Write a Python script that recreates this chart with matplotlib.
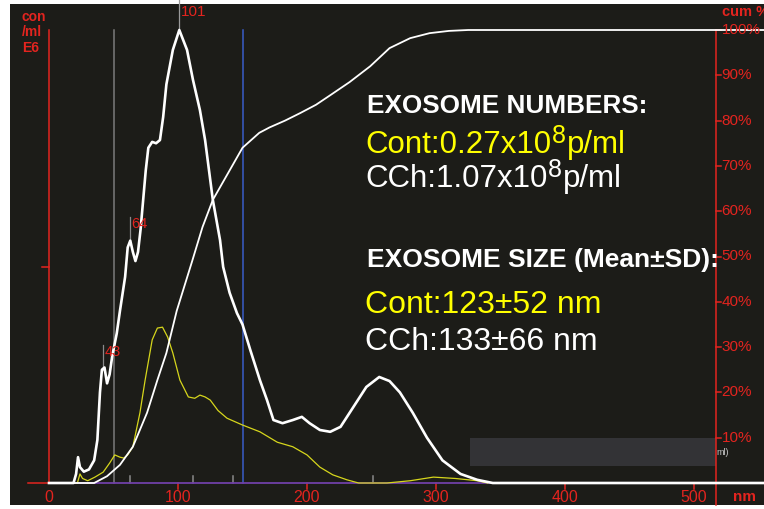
#!/usr/bin/env python3
"""Redraw the NTA size distribution plot (exosome numbers and sizes)."""

import matplotlib

matplotlib.use("Agg")
import matplotlib.pyplot as plt
from matplotlib.patches import Rectangle

# concentration of CCh sample, % of peak value
cch_nm = [0, 19, 21, 22.5, 24, 27, 31, 35, 37.5, 39.5, 41, 43, 45, 47, 49, 52.5, 55, 59, 61, 63,
          65, 67, 69, 71, 73, 75, 77, 80, 83, 86, 88.5, 91, 96, 101, 107, 111.6, 117, 121, 127,
          132.6, 135, 140, 145.7, 150, 156, 163.5, 169, 174, 181, 189, 196, 202, 210, 218, 226,
          236, 246, 256, 264, 272, 282, 293, 305, 319, 332, 344, 554]
cch_conc = [0, 0, 2, 5.7, 3.5, 2.5, 3, 5, 9.5, 20, 25, 25.5, 22, 24, 28, 33, 38, 45.5, 52, 53.5,
            51, 49, 51, 56, 62.5, 69, 74, 75.3, 75, 75.7, 80.8, 88, 95.6, 100, 95.6, 89, 82.3, 75.7,
            62.5, 53.6, 47.7, 42, 37.5, 35, 29.4, 22.7, 18.3, 13.9, 13.2, 13.9, 14.6, 13.2, 11.7,
            11.3, 12.4, 16.8, 21.2, 23.4, 22.5, 20, 15.5, 10, 5, 2, 0.7, 0, 0]

# concentration of control sample, same scale
cont_nm = [0, 22, 24, 26, 30, 35.6, 42, 47, 51, 55, 58, 61, 65, 70.5, 74.5, 80, 84, 88, 92, 96,
           101.5, 108, 113, 117, 121, 125, 131, 138, 150, 163.5, 177, 189, 200, 210, 220, 231,
           240, 262, 280, 298, 315, 332, 340]
cont_conc = [0, 0, 2, 1, 0.5, 1.3, 2.4, 4.4, 6.2, 5.7, 5.5, 6.2, 8, 15.5, 22.7, 31.6, 34.2, 34.4,
             32.2, 28.7, 22.7, 19, 18.7, 19.4, 19, 18.3, 16, 14.3, 12.8, 11.3, 9, 8, 6.2, 3.5,
             1.8, 0.7, 0, 0, 0.5, 1.3, 1, 0.5, 0]

# cumulative distribution, %
cum_nm = [0, 35, 45, 55, 65, 76, 84, 91, 99, 111, 119, 127, 140, 150, 163, 171, 183, 195, 207,
          218, 233, 249, 264, 280, 295, 310, 325, 554]
cum_pct = [0, 0, 1.5, 4, 8, 15.5, 22.7, 28.7, 38, 49, 56.5, 62.5, 69, 74, 77.3, 78.5, 80, 81.7,
           83.5, 85.6, 88.5, 92, 96, 98.2, 99.3, 99.8, 100, 100]

x_ticks = [0, 100, 200, 300, 400, 500]
cum_ticks = [10, 20, 30, 40, 50, 60, 70, 80, 90, 100]
peaks = [(43, 42, 25, 30.5), (64, 63, 53.2, 58.7)]  # label, nm, line bottom, line top
gray_ticks = [63, 111.6, 143, 251]

# (text before exponent, exponent, text after, colour)
numbers_lines = [("Cont:0.27x10", "8", "p/ml", "#ffff00"), ("CCh:1.07x10", "8", "p/ml", "white")]
size_lines = [("Cont:123±52 nm", "#ffff00"), ("CCh:133±66 nm", "white")]

RED = "#e3241f"
BG = "#1c1c18"


def main() -> None:
    plt.rcParams["font.family"] = ["Liberation Sans", "DejaVu Sans"]

    fig = plt.figure(figsize=(7.64, 5.09), dpi=100, facecolor="white")
    bg = fig.add_axes([10 / 764, 4 / 509, 1, 501 / 509])
    bg.axis("off")
    bg.add_patch(Rectangle((0, 0), 1, 1, transform=bg.transAxes, facecolor=BG, edgecolor="none"))

    ax = fig.add_axes([0, 0, 1, 1])
    ax.set_facecolor("none")
    ax.axis("off")
    px = 1.29  # pixels per nm
    py = 4.53  # pixels per %
    ax.set_xlim(-49 / px, (764 - 49) / px)
    ax.set_ylim(-(509 - 483) / py, 483 / py)

    right = 517
    # grey result box
    ax.add_patch(Rectangle((326.5, 3.75), right - 326.5, 6.15, facecolor="#333336", edgecolor="none"))
    ax.text(right + 0.5, 6.8, "ml)", color="#c8c8c8", fontsize=6.5, va="center")

    # axes lines
    ax.plot([0, 0], [0, 100], color=RED, lw=1.1)
    ax.plot([-16, 0], [0, 0], color=RED, lw=1.1)
    ax.plot([-5.5, 0], [47.7, 47.7], color=RED, lw=1.1)
    ax.plot([right, right], [-4.8, 100], color=RED, lw=1.1)
    for t in cum_ticks:
        ax.plot([right, right + 4], [t, t], color=RED, lw=1.1)
        ax.text(right + 4.5, t, f"{t}%", color=RED, fontsize=11, va="center", ha="left")
    for t in x_ticks:
        if t > 0:
            ax.plot([t, t], [0, -1.4], color=RED, lw=1.1)
        ax.text(t, -3.1, str(t), color=RED, fontsize=11.5, ha="center", va="center")
    ax.text(539.5, -3.1, "nm", color=RED, fontsize=11, fontweight="bold", ha="center", va="center")
    ax.text(522, 104, "cum %", color=RED, fontsize=10.5, fontweight="bold", va="center")
    for label, yv in zip(["con", "/ml", "E6"], [102.8, 99.6, 96.1]):
        ax.text(-21, yv, label, color=RED, fontsize=10, fontweight="bold", va="center")

    # markers
    ax.plot([50, 50], [0, 100], color="#7a7a7a", lw=1.1)
    ax.plot([150, 150], [0, 100], color="#3a5cc8", lw=1.1)
    ax.plot([101, 101], [100, 106.6], color="#9a9a9a", lw=0.9)
    ax.text(102, 104, "101", color=RED, fontsize=11, va="center")
    for label, xv, y0, y1 in peaks:
        ax.plot([xv, xv], [y0, y1], color="#8a8a8a", lw=0.9)
        ax.text(xv + 1, y0 + 4, str(label), color=RED, fontsize=10.5, va="center")
    for xv in gray_ticks:
        ax.plot([xv, xv], [0, 1.6], color="#8a8a8a", lw=1.1)
    ax.plot([0, 345], [0, 0], color="#7040a8", lw=1.3)

    # curves
    ax.plot(cont_nm, cont_conc, color="#d6d61c", lw=0.9)
    ax.plot(cum_nm, cum_pct, color="white", lw=1.3)
    ax.plot(cch_nm, cch_conc, color="white", lw=1.9)

    # annotations
    ax.text(246.5, 81.7, "EXOSOME NUMBERS:", color="white", fontsize=18.8, fontweight="bold")
    for (head, power, tail, color), yv in zip(numbers_lines, [72.8, 65.3]):
        t1 = ax.text(245, yv, head, color=color, fontsize=22.5)
        t2 = ax.annotate(power, xy=(1, 0), xycoords=t1, xytext=(0.5, 9), textcoords="offset points",
                         color=color, fontsize=18, ha="left", va="bottom")
        ax.annotate(tail, xy=(1, 0), xycoords=(t2, t1), xytext=(0.5, 0), textcoords="offset points",
                    color=color, fontsize=22.5, ha="left", va="bottom")
    ax.text(246.5, 47.7, "EXOSOME SIZE (Mean±SD):", color="white", fontsize=19, fontweight="bold")
    for (label, color), yv in zip(size_lines, [37.5, 29.4]):
        ax.text(245, yv, label, color=color, fontsize=23)

    fig.savefig("out.png", dpi=100, facecolor="white")
    plt.close(fig)


if __name__ == "__main__":
    main()
